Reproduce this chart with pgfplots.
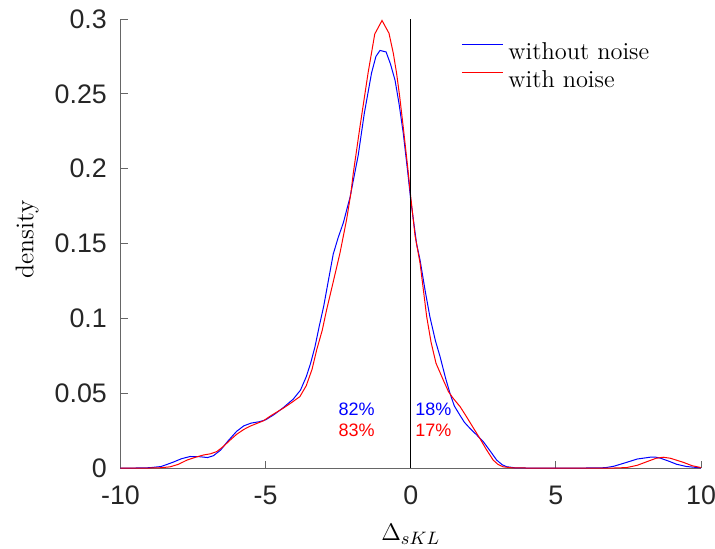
\documentclass[border=0pt]{standalone}
\usepackage{fontspec}
\usepackage{pgfplots}
\pgfplotsset{compat=1.18}
\newfontfamily\helv{Liberation Sans}

\definecolor{axgray}{gray}{0.15}

\begin{document}
\begin{tikzpicture}

\begin{axis}[
  scale only axis,
  width=290.25pt,
  height=224.5pt,
  xmin=-10, xmax=10,
  ymin=0, ymax=0.3,
  axis x line*=bottom,
  axis y line*=left,
  axis line style={-, black!60, line width=0.5pt},
  tick align=inside,
  tick style={black!60, line width=0.5pt},
  major tick length=3.5pt,
  xtick={-10,-5,0,5,10},
  xticklabels={-10,-5,0,5,10},
  ytick={0,0.05,0.1,0.15,0.2,0.25,0.3},
  yticklabels={0,0.05,0.1,0.15,0.2,0.25,0.3},
  ticklabel style={font=\helv\fontsize{13.4}{16}\selectfont, text=axgray},
  xticklabel style={yshift=-5.5pt},
  yticklabel style={xshift=-3.3pt},
  every axis x label/.style={at={(axis description cs:0.5,-0.147)}, anchor=center},
  every axis y label/.style={at={(axis description cs:-0.161,0.51)}, rotate=90, anchor=center},
  label style={font=\fontsize{12.8}{15}\selectfont},
  xlabel={$\Delta_{sKL}$},
  ylabel={density},
  legend style={draw=none, fill=none, at={(axis cs:1.73,0.289)}, anchor=north west,
    inner sep=0pt, font=\fontsize{12.2}{14}\selectfont,
    nodes={inner sep=2.5pt, text height=9.2pt, text depth=0pt}},
  legend cell align=left,
  legend image code/.code={\draw[#1] (0pt,2.8pt) -- (20.5pt,2.8pt);},
]

\addlegendimage{blue, line width=0.5pt}
\addlegendentry{without noise}
\addlegendimage{red, line width=0.5pt}
\addlegendentry{with noise}

% without noise
\addplot[blue, line width=0.5pt, forget plot] coordinates {
  (-10,0) (-9.5,0) (-9,0.0002) (-8.6,0.001) (-8.2,0.0038) (-7.9,0.0062)
  (-7.6,0.0077) (-7.3,0.0076) (-7.0,0.007) (-6.8,0.0082) (-6.55,0.012)
  (-6.3,0.018) (-6.0,0.0245) (-5.75,0.0282) (-5.5,0.030) (-5.2,0.031)
  (-5.0,0.0322) (-4.7,0.0358) (-4.4,0.0402) (-4.05,0.046) (-3.8,0.052)
  (-3.6,0.061) (-3.45,0.070) (-3.3,0.081) (-3.15,0.095) (-3.0,0.108)
  (-2.85,0.124) (-2.67,0.143) (-2.5,0.154) (-2.32,0.164) (-2.2,0.173)
  (-2.09,0.181) (-1.95,0.195) (-1.81,0.209) (-1.6,0.237) (-1.35,0.264)
  (-1.2,0.275) (-1.06,0.279) (-0.85,0.278) (-0.7,0.27) (-0.54,0.259)
  (-0.4,0.243) (-0.26,0.224) (-0.1,0.197) (0,0.179) (0.2,0.15)
  (0.32,0.139) (0.5,0.118) (0.66,0.101) (0.85,0.085) (1.01,0.0744)
  (1.2,0.06) (1.35,0.050) (1.5,0.0415) (1.69,0.0354) (1.85,0.0305)
  (2.04,0.0265) (2.25,0.0225) (2.5,0.0176) (2.75,0.011) (2.96,0.0053)
  (3.15,0.0022) (3.3,0.0009) (3.6,0.0001) (4,0) (5,0) (6,0) (6.7,0.0002)
  (7.0,0.0012) (7.44,0.0038) (7.8,0.006) (8.24,0.0072) (8.45,0.0072)
  (8.6,0.0066) (8.9,0.0045) (9.16,0.0025) (9.5,0.001) (10,0.0001)
};

% with noise
\addplot[red, line width=0.5pt, forget plot] coordinates {
  (-10,0) (-9,0) (-8.6,0.0002) (-8.29,0.0008) (-8.0,0.0025) (-7.71,0.0053)
  (-7.4,0.0073) (-7.14,0.0087) (-6.9,0.0095) (-6.68,0.011) (-6.45,0.0145)
  (-6.22,0.0187) (-6.0,0.0225) (-5.75,0.0258) (-5.53,0.028) (-5.3,0.0298)
  (-5.08,0.0315) (-4.8,0.0352) (-4.39,0.040) (-4.1,0.0438) (-3.82,0.0477)
  (-3.6,0.055) (-3.4,0.066) (-3.24,0.079) (-3.05,0.092) (-2.9,0.1056)
  (-2.7,0.122) (-2.44,0.1435) (-2.21,0.166) (-2.06,0.184) (-1.98,0.197)
  (-1.75,0.228) (-1.47,0.264) (-1.24,0.29) (-0.99,0.299) (-0.75,0.2905)
  (-0.6,0.277) (-0.49,0.264) (-0.38,0.248) (-0.26,0.228) (-0.1,0.2)
  (0,0.181) (0.15,0.155) (0.32,0.137) (0.55,0.101) (0.7,0.084)
  (0.87,0.070) (1.12,0.0588) (1.3,0.051) (1.46,0.0466) (1.7,0.041)
  (1.92,0.0343) (2.15,0.027) (2.38,0.0198) (2.6,0.0125) (2.84,0.0053)
  (3.0,0.0025) (3.18,0.0008) (3.5,0.0001) (4,0) (7,0) (7.44,0.0003)
  (7.8,0.0018) (8.13,0.0042) (8.45,0.0065) (8.7,0.0072) (8.95,0.0065)
  (9.39,0.0038) (9.7,0.0015) (10,0.0003)
};

% zero line
\addplot[black, line width=0.5pt, forget plot] coordinates {(0,0) (0,0.3)};

\node[anchor=east, inner sep=0pt, text=blue, font=\helv\fontsize{9}{10}\selectfont]
  at (axis cs:-1.23,0.0394) {82\%};
\node[anchor=east, inner sep=0pt, text=red, font=\helv\fontsize{9}{10}\selectfont]
  at (axis cs:-1.23,0.0254) {83\%};
\node[anchor=west, inner sep=0pt, text=blue, font=\helv\fontsize{9}{10}\selectfont]
  at (axis cs:0.145,0.0394) {18\%};
\node[anchor=west, inner sep=0pt, text=red, font=\helv\fontsize{9}{10}\selectfont]
  at (axis cs:0.145,0.0254) {17\%};

\end{axis}

% canvas the size of the reference
\pgfresetboundingbox
\path[use as bounding box] (-60.25pt,-40pt) rectangle (297.25pt,234pt);

\end{tikzpicture}
\end{document}
